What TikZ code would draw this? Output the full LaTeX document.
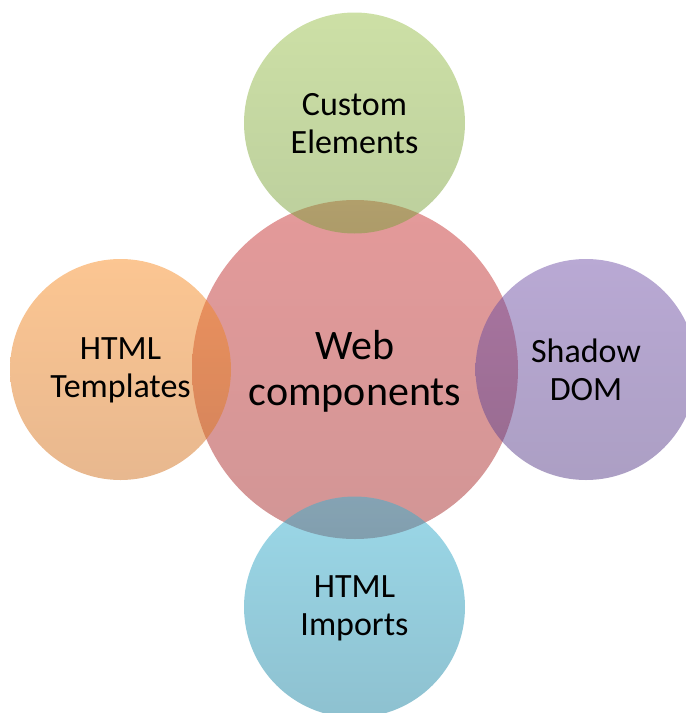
\documentclass[tikz,border=0pt]{standalone}
\usepackage{fontspec}
\setmainfont{Carlito}
\begin{document}
\begin{tikzpicture}[x=1pt,y=-1pt,
  bubble/.style={fill opacity=0.5, draw=none},
  small/.style={align=center, text=black, font=\fontsize{34}{38}\selectfont},
  big/.style={align=center, text=black, font=\fontsize{42}{46}\selectfont}]
  % colours (base tones, shown at half opacity)
  \definecolor{grnT}{RGB}{155,193,77}
  \definecolor{grnB}{RGB}{121,159,59}
  \definecolor{redT}{RGB}{201,53,53}
  \definecolor{redB}{RGB}{165,45,45}
  \definecolor{orgT}{RGB}{249,141,37}
  \definecolor{orgB}{RGB}{209,113,31}
  \definecolor{purT}{RGB}{115,83,169}
  \definecolor{purB}{RGB}{89,63,137}
  \definecolor{bluT}{RGB}{55,177,209}
  \definecolor{bluB}{RGB}{29,131,161}

  \useasboundingbox (0,0) rectangle (686,713);
  \clip (0,0) rectangle (686,713);

  % hub
  \shade[bubble, top color=redT, bottom color=redB]
    (355,369.5) ellipse [x radius=163, y radius=169.5];
  % satellites
  \shade[bubble, top color=grnT, bottom color=grnB] (354.5,123) circle [radius=110.5];
  \shade[bubble, top color=orgT, bottom color=orgB] (120.5,369.5) circle [radius=110.5];
  \shade[bubble, top color=purT, bottom color=purB] (586,369.5) circle [radius=110.5];
  \shade[bubble, top color=bluT, bottom color=bluB] (354.5,607) circle [radius=110.5];

  % labels
  \node[big]   (hub)  at (355,371)   {Web\\components};
  \node[small] (top)  at (354.5,124) {Custom\\Elements};
  \node[small] (left) at (120.5,370) {HTML\\Templates};
  \node[small] (right) at (586,370)  {Shadow\\DOM};
  \node[small] (bot)  at (354.5,608) {HTML\\Imports};
\end{tikzpicture}
\end{document}
